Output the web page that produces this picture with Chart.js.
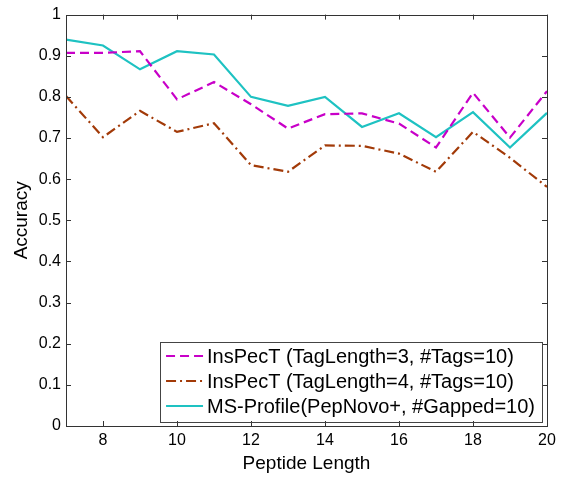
<!DOCTYPE html>
<html>
<head>
<meta charset="utf-8">
<script src="https://cdn.jsdelivr.net/npm/chart.js@4.4.1/dist/chart.umd.min.js"></script>
<style>
  html, body { margin: 0; padding: 0; background: #fff; }
  canvas { display: block; }
</style>
</head>
<body>
<canvas id="c" width="563" height="479"></canvas>
<script>
// ---- data ----
const peptideLengths = [7, 8, 9, 10, 11, 12, 13, 14, 15, 16, 17, 18, 19, 20];
const inspecT3 = [0.907, 0.907, 0.911, 0.794, 0.836, 0.782, 0.723, 0.758, 0.760, 0.735, 0.677, 0.810, 0.701, 0.814];
const inspecT4 = [0.802, 0.702, 0.766, 0.715, 0.736, 0.634, 0.618, 0.682, 0.681, 0.662, 0.618, 0.715, 0.652, 0.581];
const msProfile = [0.939, 0.925, 0.867, 0.911, 0.903, 0.800, 0.778, 0.800, 0.727, 0.760, 0.702, 0.763, 0.677, 0.761];
const seriesLabels = [
  'InsPecT (TagLength=3, #Tags=10)',
  'InsPecT (TagLength=4, #Tags=10)',
  'MS-Profile(PepNovo+, #Gapped=10)'
];
const xTickValues = [8, 10, 12, 14, 16, 18, 20];
const yTickValues = [0, 0.1, 0.2, 0.3, 0.4, 0.5, 0.6, 0.7, 0.8, 0.9, 1];
const xTitle = 'Peptide Length';
const yTitle = 'Accuracy';

const FONT = 'Liberation Sans, Arial, sans-serif';

function pts(vals) { return peptideLengths.map((x, i) => ({ x: x, y: vals[i] })); }

// inward ticks + frame
const framePlugin = {
  id: 'frame',
  afterDatasetsDraw(chart) {
    const ctx = chart.ctx;
    const a = chart.chartArea;
    const xs = chart.scales.x, ys = chart.scales.y;
    const L = 5;
    ctx.save();
    ctx.strokeStyle = '#333';
    ctx.lineWidth = 1;
    ctx.beginPath();
    xTickValues.forEach(v => {
      const px = Math.round(xs.getPixelForValue(v)) + 0.5;
      ctx.moveTo(px, a.bottom); ctx.lineTo(px, a.bottom - L);
      ctx.moveTo(px, a.top); ctx.lineTo(px, a.top + L);
    });
    yTickValues.forEach(v => {
      const py = Math.round(ys.getPixelForValue(v)) + 0.5;
      ctx.moveTo(a.left, py); ctx.lineTo(a.left + L, py);
      ctx.moveTo(a.right, py); ctx.lineTo(a.right - L, py);
    });
    ctx.stroke();
    ctx.strokeRect(Math.round(a.left) + 0.5, Math.round(a.top) + 0.5,
                   Math.round(a.right - a.left), Math.round(a.bottom - a.top));
    ctx.restore();
  }
};

// legend inside the plot, bottom-right
const legendPlugin = {
  id: 'insideLegend',
  afterDraw(chart) {
    const ctx = chart.ctx;
    const a = chart.chartArea;
    ctx.save();
    ctx.font = '20px ' + FONT;
    const ds = chart.data.datasets;
    let maxW = 0;
    ds.forEach(d => { maxW = Math.max(maxW, ctx.measureText(d.label).width); });
    const padL = 6, lineLen = 37, gap = 4, padR = 7;
    const rowH = 25, padT = 14.5, padB = 15;
    const w = padL + lineLen + gap + maxW + padR;
    const h = padT + padB + rowH * (ds.length - 1);
    const right = a.right - 5, bottom = a.bottom - 5;
    const left = right - w, top = bottom - h;
    ctx.fillStyle = '#fff';
    ctx.fillRect(left, top, w, h);
    ctx.strokeStyle = '#444';
    ctx.lineWidth = 1;
    ctx.strokeRect(Math.round(left) + 0.5, Math.round(top) + 0.5, Math.round(w), Math.round(h));
    ds.forEach((d, i) => {
      const cy = top + padT + i * rowH;
      ctx.beginPath();
      ctx.strokeStyle = d.borderColor;
      ctx.lineWidth = d.borderWidth;
      ctx.setLineDash(d.borderDash || []);
      ctx.moveTo(left + padL, cy);
      ctx.lineTo(left + padL + lineLen, cy);
      ctx.stroke();
      ctx.setLineDash([]);
      ctx.fillStyle = '#000';
      ctx.textBaseline = 'middle';
      ctx.textAlign = 'left';
      ctx.fillText(d.label, left + padL + lineLen + gap, cy + 1);
    });
    ctx.restore();
  }
};

new Chart(document.getElementById('c'), {
  type: 'line',
  data: {
    datasets: [
      { label: seriesLabels[0], data: pts(inspecT3), borderColor: '#c800c8', borderWidth: 2.2,
        borderDash: [9, 5], pointRadius: 0, fill: false, tension: 0 },
      { label: seriesLabels[1], data: pts(inspecT4), borderColor: '#a23a08', borderWidth: 2.2,
        borderDash: [10, 4, 2, 4], pointRadius: 0, fill: false, tension: 0 },
      { label: seriesLabels[2], data: pts(msProfile), borderColor: '#1ec2c2', borderWidth: 2.2,
        pointRadius: 0, fill: false, tension: 0 }
    ]
  },
  options: {
    responsive: false,
    animation: false,
    devicePixelRatio: 1,
    layout: { padding: { top: 13, right: 16, bottom: 0, left: 0 } },
    plugins: { legend: { display: false }, tooltip: { enabled: false } },
    scales: {
      x: {
        type: 'linear', min: 7, max: 20,
        afterBuildTicks: s => { s.ticks = xTickValues.map(v => ({ value: v })); },
        afterFit: s => { s.height = 53; },
        grid: { display: false, drawTicks: false },
        border: { display: false },
        ticks: { font: { family: FONT, size: 16 }, color: '#000', padding: 5, maxRotation: 0,
                 callback: v => String(v) },
        title: { display: true, text: xTitle, font: { family: FONT, size: 19 }, color: '#000',
                 padding: { top: 0, bottom: 4 } }
      },
      y: {
        type: 'linear', min: 0, max: 1,
        afterBuildTicks: s => { s.ticks = yTickValues.map(v => ({ value: v })); },
        afterFit: s => { s.width = 66; },
        grid: { display: false, drawTicks: false },
        border: { display: false },
        ticks: { font: { family: FONT, size: 16 }, color: '#000', padding: 5,
                 callback: v => String(Math.round(v * 10) / 10) },
        title: { display: true, text: yTitle, font: { family: FONT, size: 19 }, color: '#000',
                 padding: { top: 10, bottom: 0 } }
      }
    }
  },
  plugins: [framePlugin, legendPlugin]
});
</script>
</body>
</html>
